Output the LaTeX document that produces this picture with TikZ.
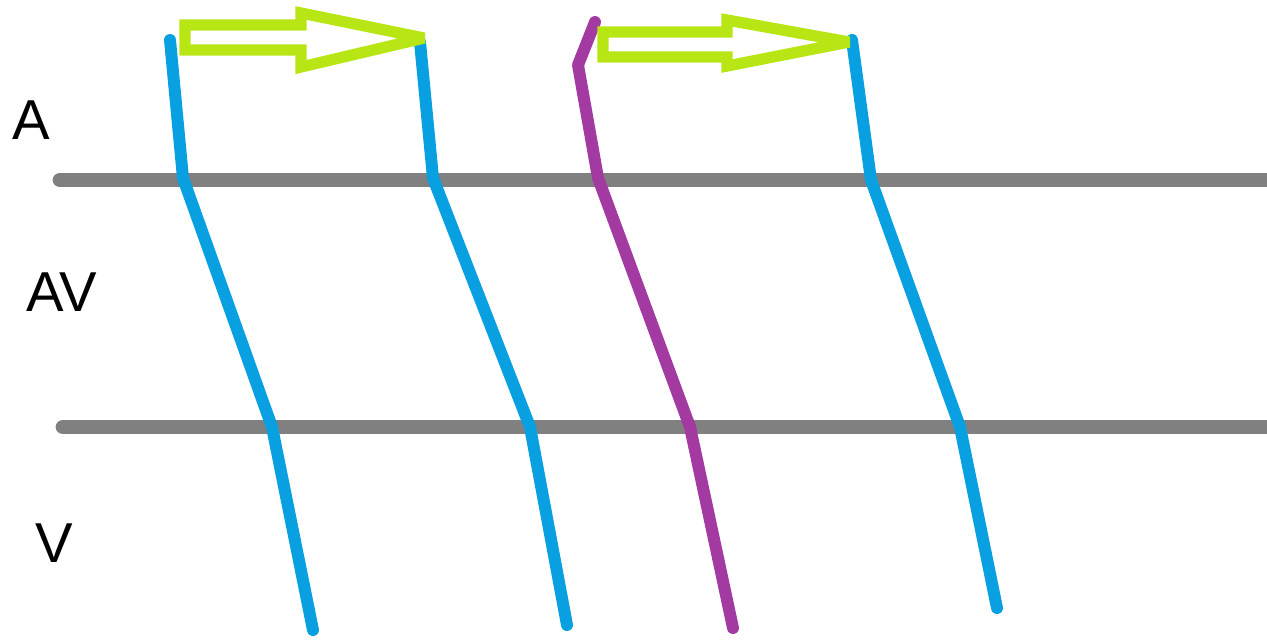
\documentclass[tikz,border=0pt]{standalone}
\usepackage{fontspec}
\setmainfont{Liberation Sans}
\usepackage{tikz}
\usetikzlibrary{positioning}
\usepackage{xcolor}
\definecolor{leadgray}{RGB}{128,128,128}
\definecolor{wireblue}{RGB}{8,160,224}
\definecolor{wirepurple}{RGB}{162,58,162}
\definecolor{flowgreen}{RGB}{184,230,20}

\begin{document}
\begin{tikzpicture}[
  x=0.01cm, y=-0.01cm,
  level/.style={draw=leadgray, line width=4.2pt, line cap=round},
  wave/.style={draw=wireblue, line width=3.4pt, line cap=round, line join=round},
  ectopic/.style={wave, draw=wirepurple},
  flow/.style={draw=flowgreen, line width=3.2pt, line join=miter, miter limit=3},
  label/.style={font=\fontsize{16}{19}\selectfont, inner sep=0pt}
]
\useasboundingbox (0,0) rectangle (1267,641);

% Level labels
\node[label] (lblA)  at (31,120)  {A};
\node[label] (lblAV) at (62,292)  {AV};
\node[label] (lblV)  at (54,543)  {V};

% Horizontal borders
\coordinate (topL) at (60,180);   \coordinate (topR) at (1267,180);
\coordinate (botL) at (63,427);   \coordinate (botR) at (1267,427);
\draw[level] (topL) -- (topR);
\draw[level] (botL) -- (botR);

% Conduction traces
\draw[wave]    (170,40) -- (183,178) -- (272,427) -- (313,630);
\draw[wave]    (420,42) -- (433,178) -- (530,427) -- (567,625);
\draw[ectopic] (595,22) -- (578,65) -- (598,178) -- (690,427) -- (733,628);
\draw[wave]    (852,40) -- (871,180) -- (960,427) -- (997,608);

% Hollow arrows
\draw[flow] (185,25) -- (301,25) -- (301,13) -- (424,38) -- (301,67)
            -- (301,50) -- (185,50) -- cycle;
\draw[flow] (603,32) -- (727,32) -- (727,20) -- (849,42) -- (727,66)
            -- (727,57) -- (603,57) -- cycle;

\end{tikzpicture}
\end{document}
